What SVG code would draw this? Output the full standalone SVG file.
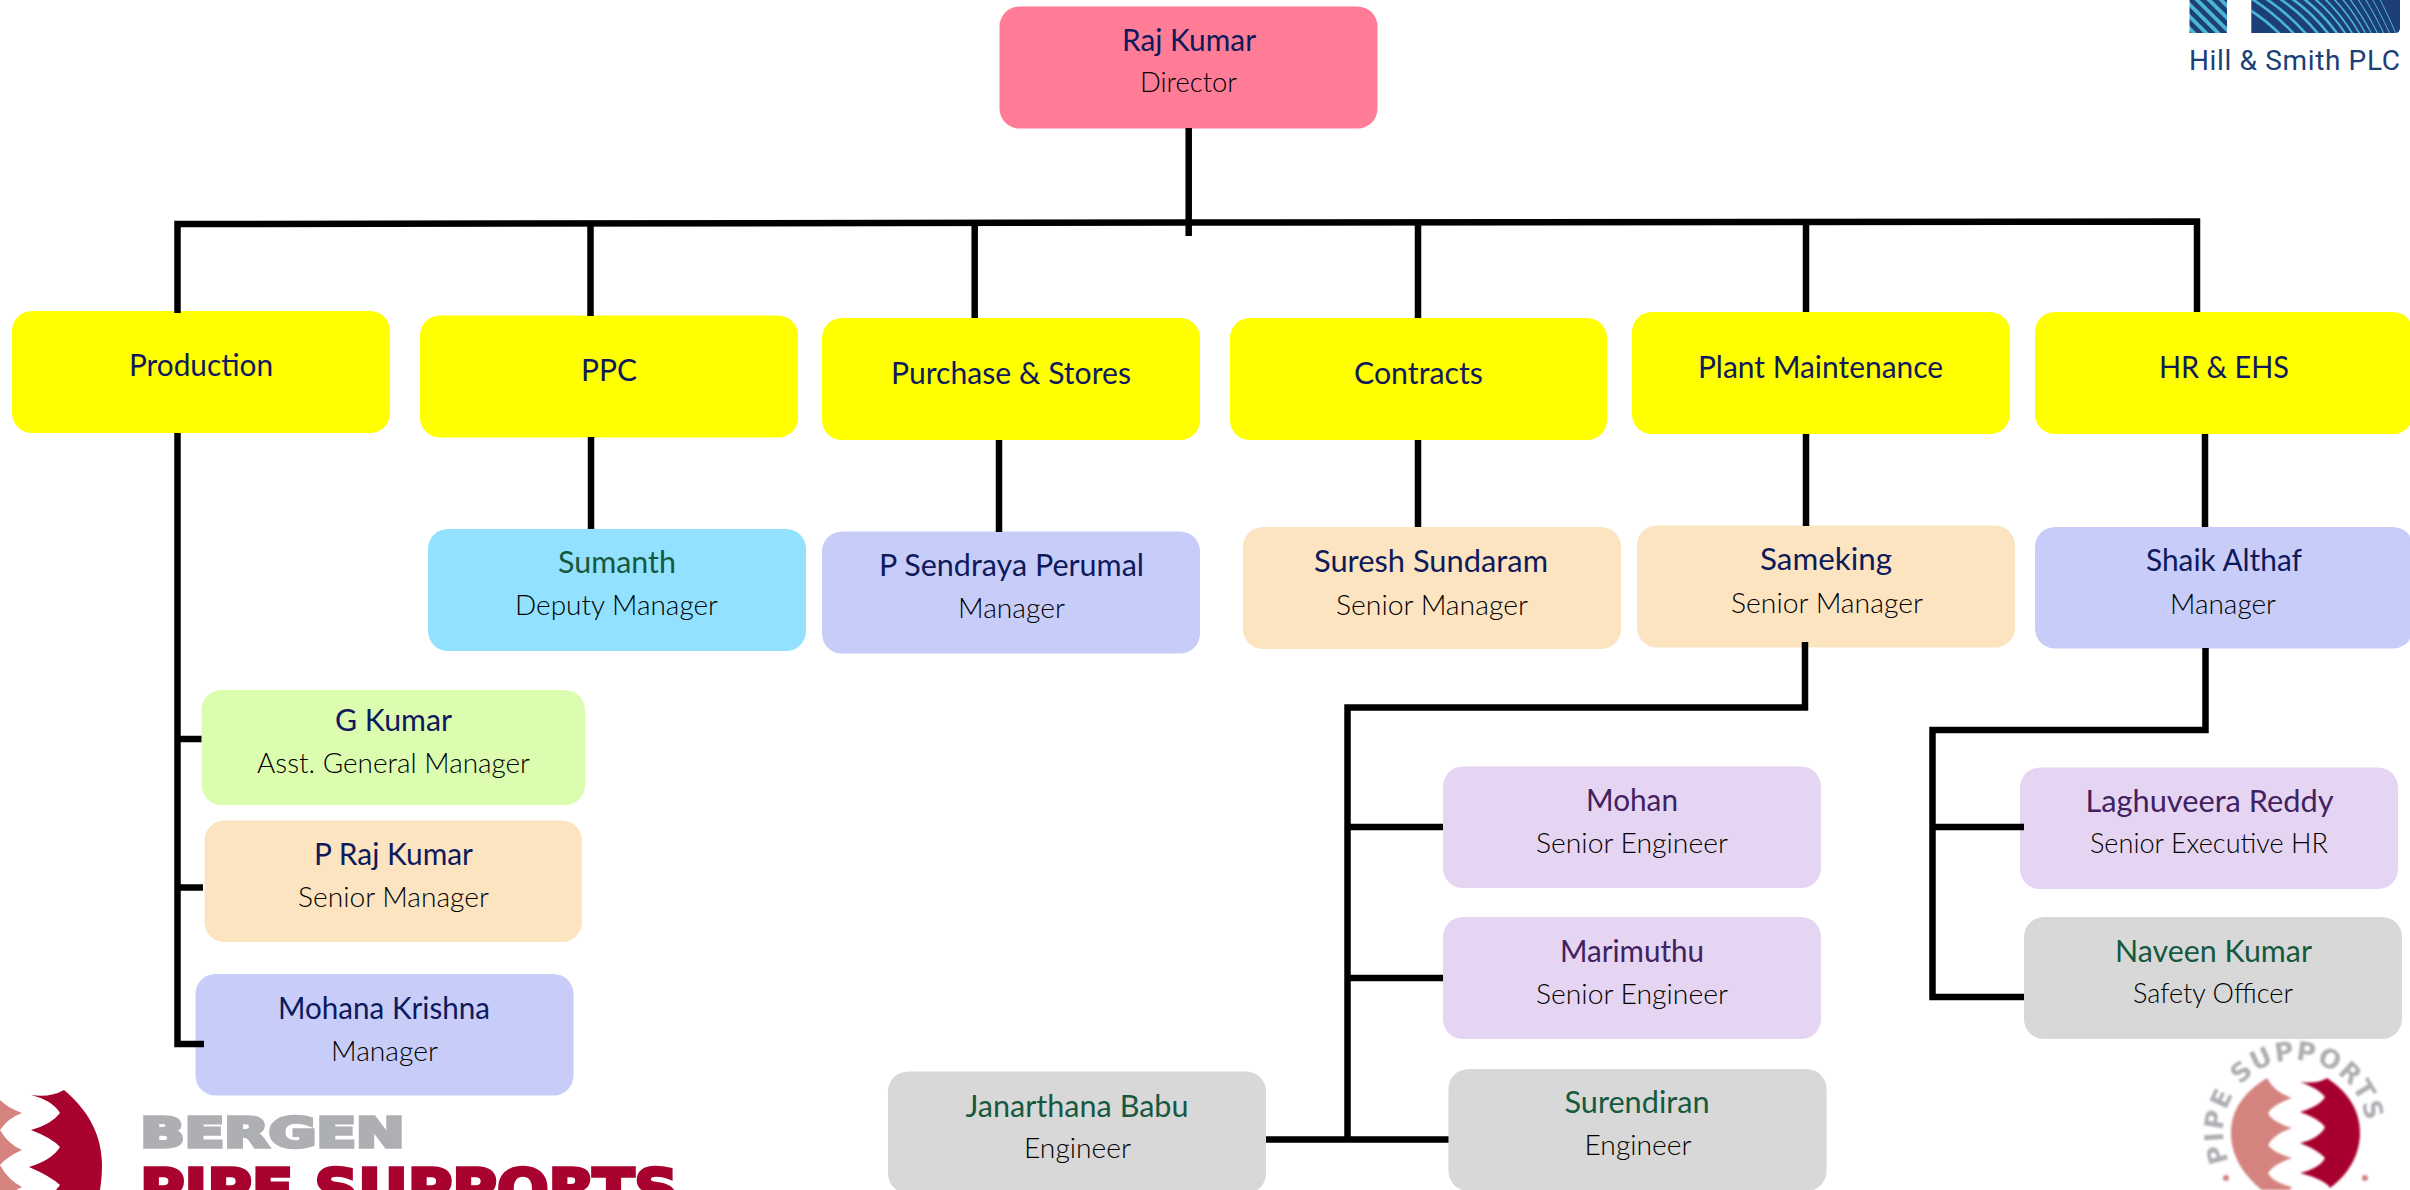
<svg xmlns="http://www.w3.org/2000/svg" width="2410" height="1190" viewBox="0 0 2410 1190">
<style>
text{font-family:"Lato","Noto Sans",sans-serif;text-anchor:middle}
.n{font-size:30px;font-weight:400;fill:#0e1a5c;}
.g{fill:#16593f}.p{fill:#41215f}
.r{font-size:27px;font-weight:300;fill:#000}
.b{rx:20px;ry:20px}
.y{fill:#ffff00}.pk{fill:#ff7c96}.sky{fill:#92e2ff}.vi{fill:#c7cdf8}.pe{fill:#fde4c0}.li{fill:#dcfdb0}.la{fill:#e5d5f2}.gr{fill:#d8d8d8}
.c{fill:none;stroke:#000;stroke-width:6.5}
.cr{fill:#a8032f}.pn{fill:#d4837f}
.lg{font-family:"DejaVu Sans",sans-serif;font-weight:700;stroke-width:3.5}
</style>
<defs>
<pattern id="hatch" width="8.5" height="8.5" patternUnits="userSpaceOnUse" patternTransform="rotate(45)">
<rect width="8.5" height="8.5" fill="#1c3f78"/><rect y="0" width="8.5" height="3.8" fill="#4ab5cf"/>
</pattern>
<filter id="soft" x="-5%" y="-5%" width="110%" height="110%"><feGaussianBlur stdDeviation="0.8"/></filter>
<clipPath id="hs"><path d="M2251.3 0H2400V28Q2400 33 2395 33H2251.3Z"/></clipPath>
<path id="ring" d="M2229 1161A72 72 0 1 1 2361 1161"/>
</defs>

<g id="logo-hill-smith">
<rect x="2189.5" y="0" width="37.5" height="33" fill="url(#hatch)"/>
<g clip-path="url(#hs)">
<rect x="2251" y="0" width="150" height="33" fill="#1c3f78"/>
<g fill="none" stroke="#4ab5cf" stroke-width="2.6">
<path d="M2240 4Q2262 16 2282 36"/><path d="M2240 -8Q2270 8 2296 36"/><path d="M2248 -12Q2282 6 2308 36"/>
<path d="M2262 -12Q2296 6 2320 36"/><path d="M2274 -12Q2306 4 2330 36"/><path d="M2288 -12Q2318 6 2339 36"/>
<path d="M2300 -12Q2328 6 2347 36" stroke-width="2"/><path d="M2312 -12Q2336 6 2354 36" stroke-width="1.8"/><path d="M2322 -12Q2344 6 2361 36" stroke-width="1.6"/>
<path d="M2332 -12Q2351 6 2367 36" stroke-width="1.4"/><path d="M2341 -12Q2358 8 2373 36" stroke-width="1.3"/><path d="M2350 -12Q2365 8 2379 36" stroke-width="1.2"/>
<path d="M2358 -12Q2372 8 2385 36" stroke-width="1.1"/><path d="M2366 -12Q2378 8 2391 36" stroke-width="1"/><path d="M2374 -12Q2385 8 2397 36" stroke-width="1"/>
</g>
</g>
<text x="2294.5" y="69.5" font-size="28" fill="#1c3f78" textLength="211" lengthAdjust="spacing" style="font-family:'Roboto',sans-serif;font-weight:400">Hill &amp; Smith PLC</text>
</g>

<g id="logo-bergen">
<path class="cr" d="M64 1090C88 1110 102 1135 102 1165C102 1175 101 1183 100 1190H56L60 1185Q50 1176 29 1167Q52 1160 60 1147Q52 1138 31 1130Q52 1124 60 1113Q52 1100 31 1095Q50 1098 64 1090Z"/>
<path class="pn" d="M0 1100Q8 1108 22 1113Q8 1118 0 1130Q8 1144 22 1150Q8 1156 0 1165Q8 1180 22 1187L16 1190H0Z"/>
<text class="lg" x="272.5" y="1147" font-size="40" fill="#adafb2" stroke="#adafb2" textLength="264" lengthAdjust="spacingAndGlyphs">BERGEN</text>
<text class="lg" x="409" y="1208" font-size="56" fill="#a8032f" stroke="#a8032f" textLength="538" lengthAdjust="spacingAndGlyphs">PIPE SUPPORTS</text>
</g>

<g id="logo-ring" filter="url(#soft)">
<path class="cr" d="M2327 1078C2348 1092 2360 1110 2360 1133C2360 1155 2348 1175 2330 1188Q2326 1180 2300 1173Q2320 1168 2325 1158Q2318 1150 2300 1143Q2320 1138 2325 1127Q2318 1118 2300 1112Q2320 1106 2325 1097Q2318 1088 2300 1082Q2318 1084 2327 1078Z"/>
<path class="pn" d="M2267 1078C2244 1092 2231 1110 2231 1133C2231 1155 2243 1175 2262 1190H2290L2292 1187Q2272 1182 2268 1173Q2274 1164 2292 1158Q2272 1152 2268 1145Q2274 1134 2292 1128Q2272 1122 2268 1113Q2274 1104 2292 1098Q2274 1092 2267 1078Z"/>
<text font-size="26" fill="#adafb2" style="text-anchor:start;font-family:'DejaVu Sans',sans-serif;font-weight:700" letter-spacing="1.2"><textPath href="#ring">PIPE SUPPORTS</textPath></text>
<circle class="pn" cx="2226" cy="1178" r="3"/><circle class="pn" cx="2365" cy="1178" r="3"/>
</g>

<g id="node-raj-kumar"><rect class="b pk" x="999.5" y="6.5" width="378" height="122"/><text class="n" x="1189" y="51" textLength="134" lengthAdjust="spacingAndGlyphs">Raj Kumar</text><text class="r" x="1188.5" y="92" textLength="97" lengthAdjust="spacingAndGlyphs">Director</text></g>
<g id="node-production"><rect class="b y" x="12" y="311" width="378" height="122"/><text class="n" x="201" y="376" textLength="144" lengthAdjust="spacingAndGlyphs">Production</text></g>
<g id="node-ppc"><rect class="b y" x="420" y="315.5" width="378" height="122"/><text class="n" x="609" y="381" textLength="56" lengthAdjust="spacingAndGlyphs">PPC</text></g>
<g id="node-purchase"><rect class="b y" x="822" y="318" width="378" height="122"/><text class="n" x="1011" y="384" textLength="240" lengthAdjust="spacingAndGlyphs">Purchase &amp; Stores</text></g>
<g id="node-contracts"><rect class="b y" x="1230" y="318" width="377" height="122"/><text class="n" x="1418.5" y="384" textLength="129" lengthAdjust="spacingAndGlyphs">Contracts</text></g>
<g id="node-plant"><rect class="b y" x="1632" y="312" width="378" height="122"/><text class="n" x="1820.5" y="378" textLength="245" lengthAdjust="spacingAndGlyphs">Plant Maintenance</text></g>
<g id="node-hr"><rect class="b y" x="2035" y="312" width="378" height="122"/><text class="n" x="2224" y="378" textLength="130" lengthAdjust="spacingAndGlyphs">HR &amp; EHS</text></g>
<g id="node-sumanth"><rect class="b sky" x="428" y="529" width="378" height="122"/><text class="n g" x="617" y="573" textLength="118" lengthAdjust="spacingAndGlyphs">Sumanth</text><text class="r" x="616.5" y="615" textLength="203" lengthAdjust="spacingAndGlyphs">Deputy Manager</text></g>
<g id="node-sendraya"><rect class="b vi" x="822" y="531.5" width="378" height="122"/><text class="n" x="1011.5" y="576" textLength="265" lengthAdjust="spacingAndGlyphs">P Sendraya Perumal</text><text class="r" x="1011.5" y="618" textLength="107" lengthAdjust="spacingAndGlyphs">Manager</text></g>
<g id="node-suresh"><rect class="b pe" x="1243" y="527" width="378" height="122"/><text class="n" x="1431" y="572" textLength="234" lengthAdjust="spacingAndGlyphs">Suresh Sundaram</text><text class="r" x="1432" y="614.5" textLength="192" lengthAdjust="spacingAndGlyphs">Senior Manager</text></g>
<g id="node-sameking"><rect class="b pe" x="1637" y="525.5" width="378" height="122"/><text class="n" x="1826" y="570" textLength="132" lengthAdjust="spacingAndGlyphs">Sameking</text><text class="r" x="1827" y="612.5" textLength="192" lengthAdjust="spacingAndGlyphs">Senior Manager</text></g>
<g id="node-shaik"><rect class="b vi" x="2035" y="527" width="378" height="121.5"/><text class="n" x="2224" y="571" textLength="156" lengthAdjust="spacingAndGlyphs">Shaik Althaf</text><text class="r" x="2223" y="613.5" textLength="106" lengthAdjust="spacingAndGlyphs">Manager</text></g>
<g id="node-g-kumar"><rect class="b li" x="201.5" y="690" width="383.5" height="115"/><text class="n" x="393.5" y="731" textLength="117" lengthAdjust="spacingAndGlyphs">G Kumar</text><text class="r" x="393.5" y="773" textLength="273" lengthAdjust="spacingAndGlyphs">Asst. General Manager</text></g>
<g id="node-p-raj"><rect class="b pe" x="204.5" y="820.5" width="377.5" height="121.5"/><text class="n" x="393.5" y="865" textLength="159" lengthAdjust="spacingAndGlyphs">P Raj Kumar</text><text class="r" x="393.5" y="906.5" textLength="191" lengthAdjust="spacingAndGlyphs">Senior Manager</text></g>
<g id="node-mohana"><rect class="b vi" x="195.5" y="974" width="378" height="121.5"/><text class="n" x="384" y="1018.5" textLength="212" lengthAdjust="spacingAndGlyphs">Mohana Krishna</text><text class="r" x="384.5" y="1060.5" textLength="107" lengthAdjust="spacingAndGlyphs">Manager</text></g>
<g id="node-mohan"><rect class="b la" x="1443" y="766.5" width="378" height="121.5"/><text class="n p" x="1632" y="811" textLength="92" lengthAdjust="spacingAndGlyphs">Mohan</text><text class="r" x="1632" y="852.5" textLength="192" lengthAdjust="spacingAndGlyphs">Senior Engineer</text></g>
<g id="node-marimuthu"><rect class="b la" x="1443" y="917" width="378" height="122"/><text class="n p" x="1632" y="962" textLength="144" lengthAdjust="spacingAndGlyphs">Marimuthu</text><text class="r" x="1632" y="1003.5" textLength="192" lengthAdjust="spacingAndGlyphs">Senior Engineer</text></g>
<g id="node-surendiran"><rect class="b gr" x="1448.5" y="1069" width="378" height="122"/><text class="n g" x="1637" y="1113" textLength="145" lengthAdjust="spacingAndGlyphs">Surendiran</text><text class="r" x="1638" y="1155" textLength="107" lengthAdjust="spacingAndGlyphs">Engineer</text></g>
<g id="node-janarthana"><rect class="b gr" x="888" y="1071.5" width="378" height="122"/><text class="n g" x="1077" y="1117" textLength="223" lengthAdjust="spacingAndGlyphs">Janarthana Babu</text><text class="r" x="1077.5" y="1158" textLength="107" lengthAdjust="spacingAndGlyphs">Engineer</text></g>
<g id="node-laghuveera"><rect class="b la" x="2020" y="767.5" width="378" height="121.5"/><text class="n p" x="2209.5" y="812" textLength="248" lengthAdjust="spacingAndGlyphs">Laghuveera Reddy</text><text class="r" x="2209" y="853" textLength="238" lengthAdjust="spacingAndGlyphs">Senior Executive HR</text></g>
<g id="node-naveen"><rect class="b gr" x="2024" y="917" width="378" height="122"/><text class="n g" x="2213.5" y="962" textLength="197" lengthAdjust="spacingAndGlyphs">Naveen Kumar</text><text class="r" x="2213" y="1003" textLength="160" lengthAdjust="spacingAndGlyphs">Safety Officer</text></g>

<g id="connectors">
<path class="c" d="M1188.7 128V236"/>
<path class="c" d="M177.5 313V224L1188 222.5L2197 221.5V312"/>
<path class="c" d="M590.5 223V316"/><path class="c" d="M974.7 223V318"/><path class="c" d="M1418 222V318"/><path class="c" d="M1806 222V312"/>
<path class="c" d="M177.5 433V1044H204"/><path class="c" d="M177.5 739H201.5"/><path class="c" d="M177.5 887.5H203"/>
<path class="c" d="M591 437V529"/><path class="c" d="M999 440V532"/><path class="c" d="M1418 440V527"/><path class="c" d="M1806 434V526"/><path class="c" d="M2205 434V527"/>
<path class="c" d="M1805 642V707.5H1347.5V1139.5"/><path class="c" d="M1347.5 827H1443"/><path class="c" d="M1347.5 978H1443"/><path class="c" d="M1266 1139.5H1448.5"/>
<path class="c" d="M2205.5 648V730H1932.5V997H2024"/><path class="c" d="M1932.5 827H2024"/>
</g>
</svg>
